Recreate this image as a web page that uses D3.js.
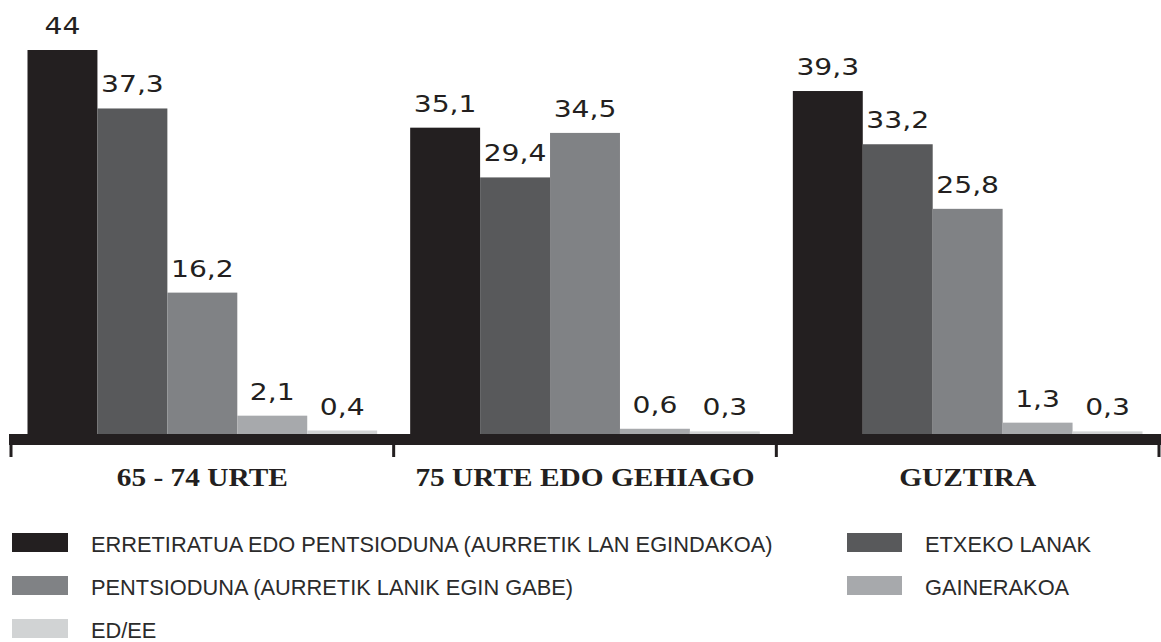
<!DOCTYPE html>
<html>
<head>
<meta charset="utf-8">
<script src="https://cdn.jsdelivr.net/npm/d3@7"></script>
<style>
  html, body { margin: 0; padding: 0; background: #ffffff; }
  svg { display: block; }
</style>
</head>
<body>
<svg id="chart" width="1161" height="642"></svg>
<script>
const categories = ["65 - 74 URTE", "75 URTE EDO GEHIAGO", "GUZTIRA"];
const seriesNames = [
  "ERRETIRATUA EDO PENTSIODUNA (AURRETIK LAN EGINDAKOA)",
  "ETXEKO LANAK",
  "PENTSIODUNA (AURRETIK LANIK EGIN GABE)",
  "GAINERAKOA",
  "ED/EE"
];
const erretiratua = [44, 35.1, 39.3];
const etxekoLanak = [37.3, 29.4, 33.2];
const pentsioduna = [16.2, 34.5, 25.8];
const gainerakoa = [2.1, 0.6, 1.3];
const eded = [0.4, 0.3, 0.3];
const seriesValues = [erretiratua, etxekoLanak, pentsioduna, gainerakoa, eded];
const seriesColors = ["#231f20", "#58595b", "#808285", "#a7a9ac", "#d1d3d4"];

const svg = d3.select("#chart");
const fmt = v => String(v).replace(".", ",");

const x0 = d3.scaleBand().domain(categories).range([11, 1159]).paddingInner(0).paddingOuter(0);
const x1 = d3.scaleBand().domain(seriesNames).range([16.5, x0.bandwidth() - 16.5]).padding(0);
const y = d3.scaleLinear().domain([0, 44]).range([434, 50]);

const rows = [];
categories.forEach((c, ci) => {
  seriesNames.forEach((s, si) => {
    rows.push({ cat: c, ser: s, si, v: seriesValues[si][ci] });
  });
});

// bars
svg.append("g").selectAll("rect").data(rows).join("rect")
  .attr("x", d => x0(d.cat) + x1(d.ser))
  .attr("y", d => y(d.v))
  .attr("width", x1.bandwidth())
  .attr("height", d => y(0) - y(d.v))
  .attr("fill", d => seriesColors[d.si]);

// value labels
svg.append("g").selectAll("text").data(rows).join("text")
  .attr("transform", d => `translate(${x0(d.cat) + x1(d.ser) + x1.bandwidth() / 2},${y(d.v) - 16}) scale(1.2,1)`)
  .attr("text-anchor", "middle")
  .style("font-family", "'DejaVu Sans', sans-serif")
  .style("font-size", "23.5px")
  .attr("fill", "#231f20")
  .text(d => fmt(d.v));

// axis baseline
const axisG = svg.append("g");
axisG.append("rect")
  .attr("x", 9).attr("y", 434)
  .attr("width", 1161 - 9).attr("height", 11)
  .attr("fill", "#231f20");
const boundaries = categories.map(c => x0(c)).concat([x0(categories[categories.length - 1]) + x0.bandwidth()]);
axisG.selectAll("rect.tick").data(boundaries).join("rect")
  .attr("class", "tick")
  .attr("x", d => d - 1.5)
  .attr("y", 440)
  .attr("width", 3)
  .attr("height", 17)
  .attr("fill", "#231f20");

// category labels
axisG.selectAll("text").data(categories).join("text")
  .attr("transform", d => `translate(${x0(d) + x0.bandwidth() / 2},486) scale(1.13,1)`)
  .attr("text-anchor", "middle")
  .style("font-family", "'Liberation Serif', 'Times New Roman', serif")
  .style("font-weight", "bold")
  .style("font-size", "26px")
  .attr("fill", "#231f20")
  .text(d => d);

// legend
const legendPos = [
  { sx: 12, sw: 56, tx: 91, y: 533 },
  { sx: 847, sw: 55, tx: 925, y: 533 },
  { sx: 12, sw: 56, tx: 91, y: 576 },
  { sx: 847, sw: 55, tx: 925, y: 576 },
  { sx: 12, sw: 56, tx: 91, y: 619 }
];
const lg = svg.append("g").selectAll("g").data(seriesNames).join("g");
lg.append("rect")
  .attr("x", (d, i) => legendPos[i].sx)
  .attr("y", (d, i) => legendPos[i].y)
  .attr("width", (d, i) => legendPos[i].sw)
  .attr("height", 19)
  .attr("fill", (d, i) => seriesColors[i]);
lg.append("text")
  .attr("x", (d, i) => legendPos[i].tx)
  .attr("y", (d, i) => legendPos[i].y + 18.5)
  .style("font-family", "'Liberation Sans', Arial, sans-serif")
  .style("font-size", "21.8px")
  .attr("fill", "#2b2b2b")
  .text(d => d);
</script>
</body>
</html>
